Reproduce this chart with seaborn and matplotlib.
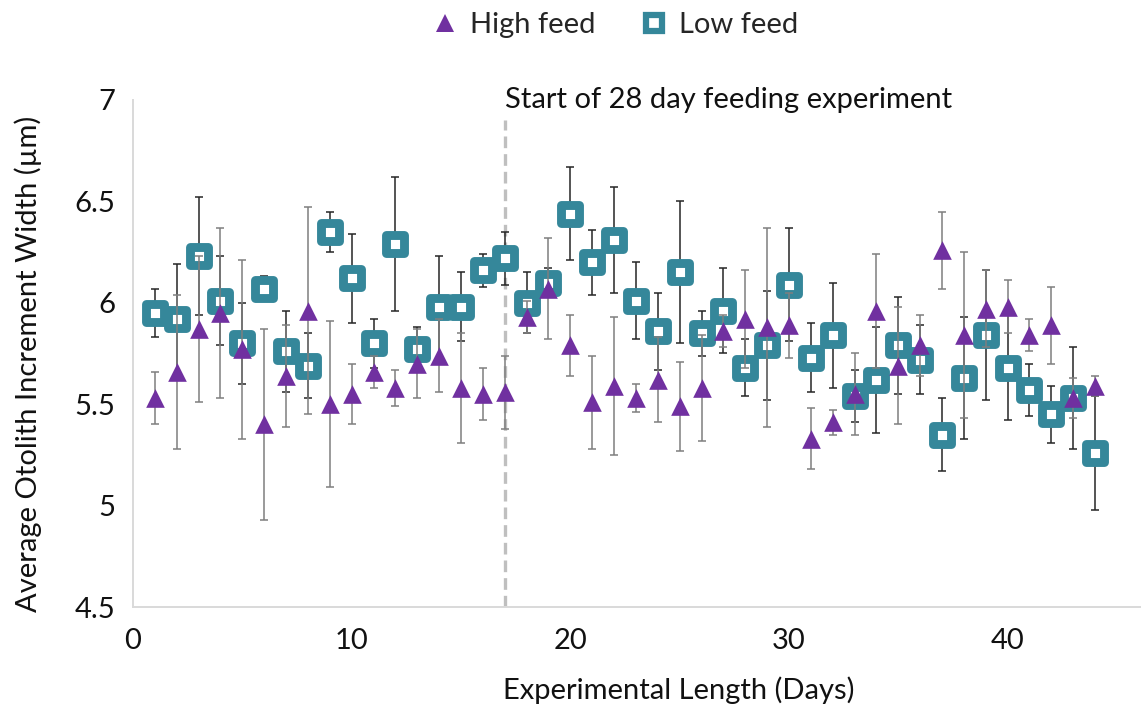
import matplotlib
matplotlib.use("Agg")
import matplotlib.pyplot as plt
import pandas as pd
import seaborn as sns
from matplotlib.lines import Line2D

# Daily mean otolith increment widths (µm) with their error margins
days = list(range(1, 45))
high_feed = [5.53, 5.66, 5.87, 5.95, 5.77, 5.40, 5.64, 5.96, 5.50, 5.55,
             5.66, 5.58, 5.70, 5.74, 5.58, 5.55, 5.56, 5.93, 6.07, 5.79,
             5.51, 5.59, 5.53, 5.62, 5.49, 5.58, 5.86, 5.92, 5.88, 5.89,
             5.33, 5.41, 5.55, 5.96, 5.69, 5.79, 6.26, 5.84, 5.97, 5.98,
             5.84, 5.89, 5.53, 5.59]
high_err = [0.13, 0.38, 0.36, 0.42, 0.44, 0.47, 0.25, 0.51, 0.41, 0.15,
            0.08, 0.09, 0.17, 0.18, 0.27, 0.13, 0.18, 0.08, 0.25, 0.15,
            0.23, 0.34, 0.07, 0.21, 0.22, 0.26, 0.08, 0.24, 0.49, 0.16,
            0.15, 0.06, 0.20, 0.28, 0.29, 0.15, 0.19, 0.41, 0.19, 0.13,
            0.08, 0.19, 0.10, 0.05]
low_feed = [5.95, 5.92, 6.23, 6.01, 5.80, 6.07, 5.76, 5.69, 6.35, 6.12,
            5.80, 6.29, 5.77, 5.98, 5.98, 6.16, 6.22, 6.00, 6.10, 6.44,
            6.20, 6.31, 6.01, 5.86, 6.15, 5.85, 5.96, 5.68, 5.79, 6.09,
            5.73, 5.84, 5.54, 5.62, 5.79, 5.72, 5.35, 5.63, 5.84, 5.68,
            5.57, 5.45, 5.53, 5.26]
low_err = [0.12, 0.27, 0.29, 0.22, 0.20, 0.06, 0.20, 0.16, 0.10, 0.22,
           0.12, 0.33, 0.11, 0.25, 0.17, 0.08, 0.13, 0.15, 0.07, 0.23,
           0.16, 0.26, 0.19, 0.19, 0.35, 0.11, 0.21, 0.14, 0.27, 0.28,
           0.17, 0.26, 0.13, 0.26, 0.24, 0.17, 0.18, 0.30, 0.32, 0.26,
           0.13, 0.14, 0.25, 0.28]
series_names = ["High feed", "Low feed"]
start_day = 17
start_label = "Start of 28 day feeding experiment"
x_ticks = [0, 10, 20, 30, 40]
y_ticks = [4.5, 5, 5.5, 6, 6.5, 7]
x_title = "Experimental Length (Days)"
y_title = "Average Otolith Increment Width (µm)"

PURPLE = "#7030A0"
TEAL = "#35879A"
HIGH_BAR = "#7F7F7F"
LOW_BAR = "#262626"
AXIS_GREY = "#D9D9D9"
TEXT = "#111111"
FS = 21

sns.set_theme(style="white")
plt.rcParams["font.family"] = ["Lato", "DejaVu Sans"]

df = pd.DataFrame({
    "day": days + days,
    "width": high_feed + low_feed,
    "err": high_err + low_err,
    "feed": [series_names[0]] * len(days) + [series_names[1]] * len(days),
})
high_df = df[df["feed"] == series_names[0]]
low_df = df[df["feed"] == series_names[1]]

fig = plt.figure(figsize=(11.41, 7.17), dpi=100)
ax = fig.add_axes([133 / 1141, 1 - 607 / 717, 1008 / 1141, 507 / 717])

# Low feed: error bars then hollow squares
ax.errorbar(low_df["day"], low_df["width"], yerr=low_df["err"], fmt="none",
            ecolor=LOW_BAR, elinewidth=1.1, capsize=3, capthick=1.1, zorder=2)
sns.scatterplot(data=low_df, x="day", y="width", ax=ax, marker="s", s=155,
                color="white", edgecolor=TEAL, linewidth=6.4, zorder=3,
                legend=False)
ax.collections[-1].set_joinstyle("round")

# High feed: error bars then filled triangles
ax.errorbar(high_df["day"], high_df["width"], yerr=high_df["err"], fmt="none",
            ecolor=HIGH_BAR, elinewidth=1.1, capsize=3, capthick=1.1, zorder=4)
sns.scatterplot(data=high_df, x="day", y="width", ax=ax, marker="^", s=180,
                color=PURPLE, linewidth=0, zorder=5, legend=False)

# Start of the feeding experiment
ax.axvline(start_day, ymin=0, ymax=(6.9 - 4.5) / 2.5, color="#BFBFBF",
           lw=2.4, dashes=(3.5, 1.8), zorder=1)
ax.text(start_day + 0.02, 7.0, start_label, ha="left", va="center",
        fontsize=FS, color=TEXT)

ax.set_xlim(0, 46.1)
ax.set_ylim(4.5, 7)
ax.set_xticks(x_ticks)
ax.set_yticks(y_ticks)
ax.set_yticklabels([f"{v:g}" for v in y_ticks])
ax.tick_params(axis="both", length=0, labelsize=FS, colors=TEXT)
ax.tick_params(axis="x", pad=15)
ax.tick_params(axis="y", pad=13)

for side in ("top", "right"):
    ax.spines[side].set_visible(False)
for side in ("left", "bottom"):
    ax.spines[side].set_color(AXIS_GREY)
    ax.spines[side].set_linewidth(1.4)

ax.set_xlabel(x_title, fontsize=FS, color=TEXT, va="center")
ax.xaxis.set_label_coords(0.5417, -0.164)
ax.set_ylabel(y_title, fontsize=FS, color=TEXT, va="center")
ax.yaxis.set_label_coords(-0.104, 0.48)

handles = [
    Line2D([], [], linestyle="none", marker="^", markersize=13,
           markerfacecolor=PURPLE, markeredgewidth=0),
    Line2D([], [], linestyle="none", marker="s", markersize=12,
           markerfacecolor="white", markeredgecolor=TEAL, markeredgewidth=4.5),
]
fig.legend(handles, series_names, loc="center", bbox_to_anchor=(0.537, 0.965),
           ncol=2, frameon=False, fontsize=FS, handletextpad=0.25,
           columnspacing=1.4, handlelength=1.2)

fig.savefig("out.png", dpi=100)
